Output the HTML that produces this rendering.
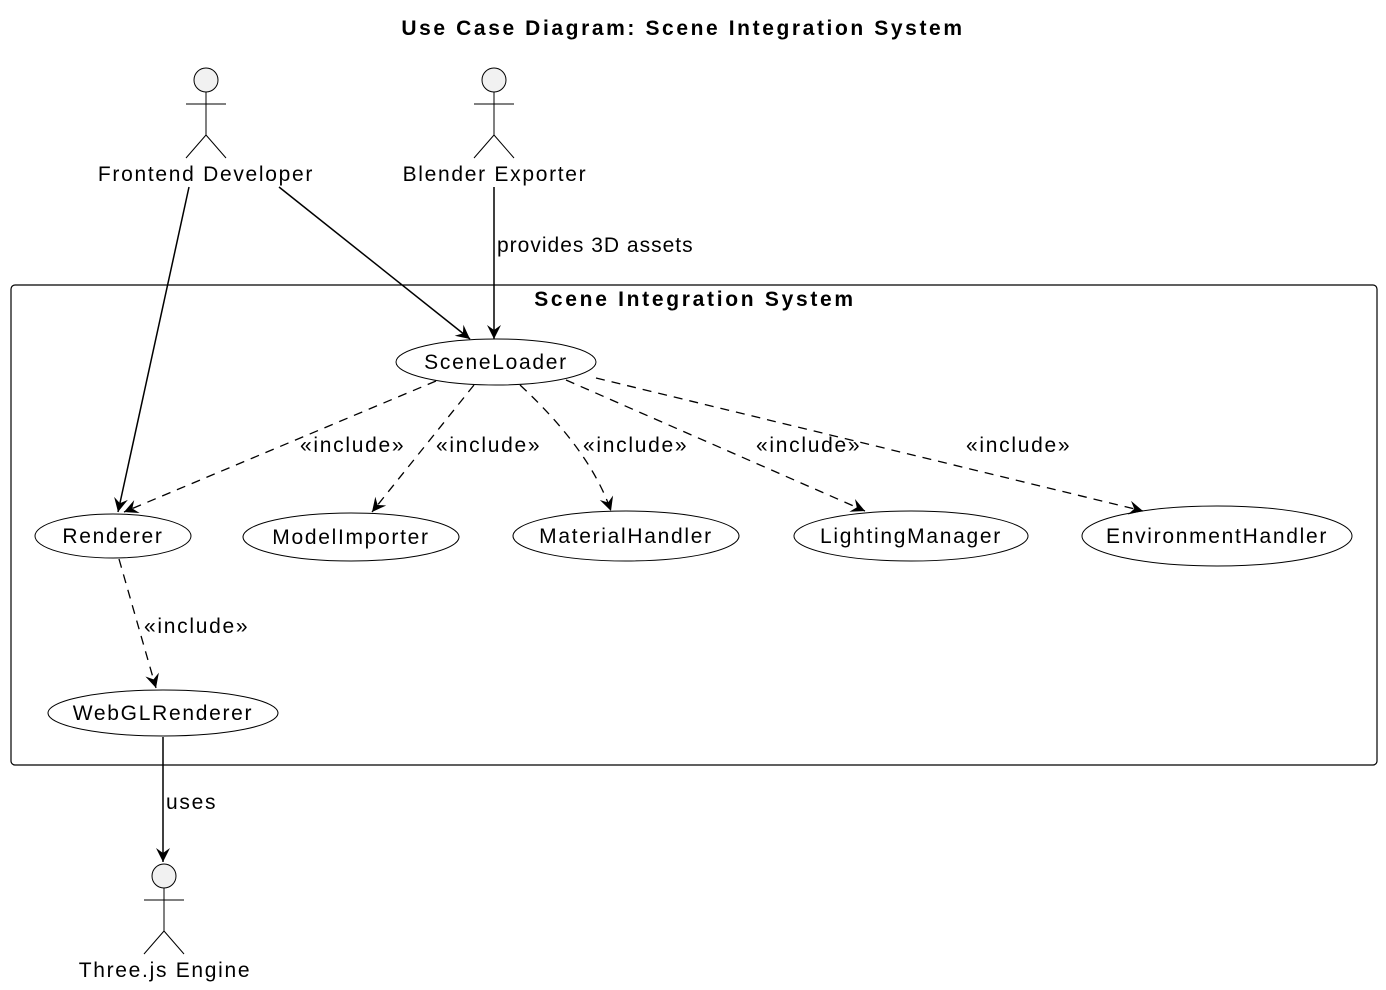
<!DOCTYPE html>
<html><head><meta charset="utf-8"><style>body{margin:0;background:#fff}svg{display:block}text{font-family:"Liberation Sans",sans-serif;font-size:21px;letter-spacing:1.7px;fill:#000}</style></head><body>
<svg width="1386" height="990" viewBox="0 0 1386 990" xmlns="http://www.w3.org/2000/svg">
<defs><marker id="a" markerWidth="18" markerHeight="18" refX="15" refY="9" orient="auto" markerUnits="userSpaceOnUse"><path d="M1,2 L15,9 L1,16 L6,9 Z" fill="#000"/></marker></defs>
<text x="683" y="35" text-anchor="middle" font-weight="bold" font-size="20" style="letter-spacing:2.6px">Use Case Diagram: Scene Integration System</text>
<g stroke="#000" stroke-width="1" fill="none">
<circle cx="206" cy="80" r="12" fill="#f1f1f1"/><path d="M206 92V135M186 104H226M206 135L186 158M206 135L226 158"/>
<circle cx="494" cy="80" r="12" fill="#f1f1f1"/><path d="M494 92V135M474 104H514M494 135L474 158M494 135L514 158"/>
<circle cx="164" cy="876" r="12" fill="#f1f1f1"/><path d="M164 888V931M144 900H184M164 931L144 954M164 931L184 954"/>
<rect x="11" y="285" width="1366" height="480" rx="4" stroke-width="1.2"/>
<ellipse cx="496" cy="362" rx="100" ry="23"/>
<ellipse cx="113" cy="536" rx="78" ry="22"/>
<ellipse cx="351" cy="537" rx="108" ry="24"/>
<ellipse cx="626" cy="536" rx="113" ry="25"/>
<ellipse cx="911" cy="536" rx="117" ry="25"/>
<ellipse cx="1217" cy="536" rx="135" ry="30"/>
<ellipse cx="163" cy="713" rx="115" ry="23"/>
<g stroke-width="1.5">
<path d="M189 187L118 512" marker-end="url(#a)"/>
<path d="M279 187L470 339" marker-end="url(#a)"/>
<path d="M494 187V339" marker-end="url(#a)"/>
<path d="M163 737V862" marker-end="url(#a)"/>
</g>
<g stroke-dasharray="9,7" stroke-width="1.3">
<path d="M436 381L124 512" marker-end="url(#a)"/>
<path d="M474 385L372 512" marker-end="url(#a)"/>
<path d="M520 385Q590 450 611 511" marker-end="url(#a)"/>
<path d="M566 380L865 511" marker-end="url(#a)"/>
<path d="M596 378L1143 511" marker-end="url(#a)"/>
<path d="M119 559L156 688" marker-end="url(#a)"/>
</g>
</g>
<text x="206" y="181" text-anchor="middle">Frontend Developer</text>
<text x="495" y="181" text-anchor="middle">Blender Exporter</text>
<text x="165" y="977" text-anchor="middle">Three.js Engine</text>
<text x="497" y="252" style="letter-spacing:1px">provides 3D assets</text>
<text x="695" y="306" text-anchor="middle" font-weight="bold" font-size="20" style="letter-spacing:2.7px">Scene Integration System</text>
<text x="496" y="369" text-anchor="middle">SceneLoader</text>
<text x="113" y="543" text-anchor="middle">Renderer</text>
<text x="351" y="544" text-anchor="middle">ModelImporter</text>
<text x="626" y="543" text-anchor="middle">MaterialHandler</text>
<text x="911" y="543" text-anchor="middle">LightingManager</text>
<text x="1217" y="543" text-anchor="middle">EnvironmentHandler</text>
<text x="163" y="720" text-anchor="middle">WebGLRenderer</text>
<text x="166" y="809">uses</text>
<g font-size="19" style="letter-spacing:1.8px">
<text x="300" y="452">«include»</text>
<text x="436" y="452">«include»</text>
<text x="583" y="452">«include»</text>
<text x="756" y="452">«include»</text>
<text x="966" y="452">«include»</text>
<text x="144" y="633">«include»</text>
</g>
</svg>
</body></html>
